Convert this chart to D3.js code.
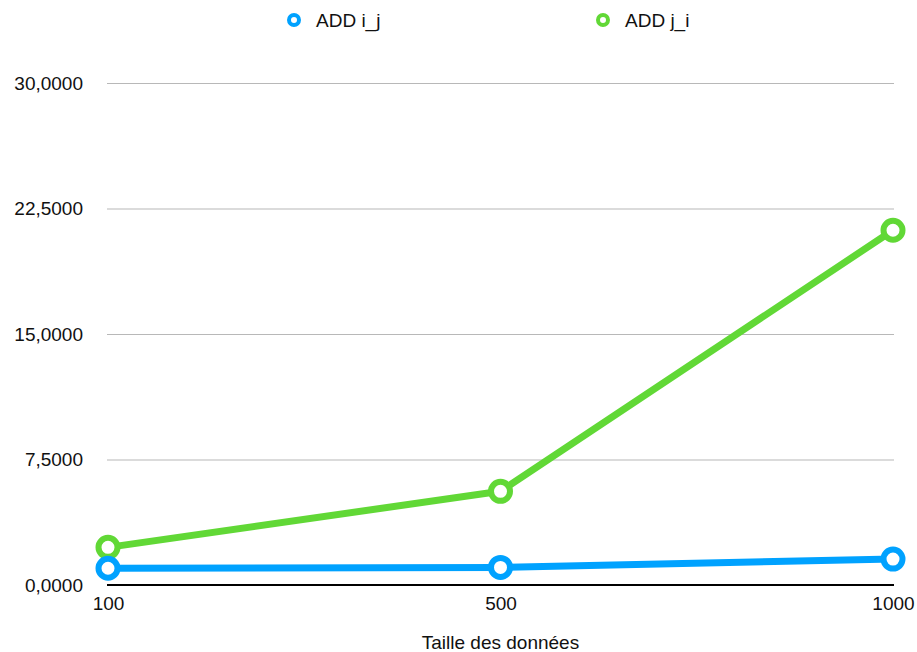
<!DOCTYPE html>
<html>
<head>
<meta charset="utf-8">
<script src="https://cdn.jsdelivr.net/npm/d3@7"></script>
<style>
	body { margin: 0; background: #fff; }
	text { font-family: "Liberation Sans", Arial, sans-serif; fill: #111; }
</style>
</head>
<body>
<div id="chart"></div>
<script>
var categories = ["100", "500", "1000"];
var seriesNames = ["ADD i_j", "ADD j_i"];
var addIJ = [1.00, 1.05, 1.55];
var addJI = [2.25, 5.60, 21.20];
var yTicks = [0, 7.5, 15, 22.5, 30];
var colors = ["#00a2ff", "#61d836"];

var width = 917, height = 652;
var margin = {left: 108, right: 24, top: 83, bottom: 67};
var fontSize = 19;

var svg = d3.select("#chart").append("svg")
	.attr("width", width)
	.attr("height", height);

var x = d3.scalePoint()
	.domain(categories)
	.range([margin.left, width - margin.right]);

var y = d3.scaleLinear()
	.domain([0, 30])
	.range([height - margin.bottom, margin.top]);

var fmt = function(v){ return d3.format(".4f")(v).replace(".", ","); };

// grid
svg.append("g")
	.attr("transform", "translate(" + (margin.left - 1) + ",0)")
	.call(d3.axisLeft(y).tickValues(yTicks).tickSize(-(width - margin.right - margin.left + 2)).tickFormat(fmt).tickPadding(24))
	.call(function(g){
		g.select(".domain").remove();
		g.selectAll(".tick line").attr("stroke", "#b8b8b8").attr("stroke-width", 1.2);
		g.selectAll(".tick text").attr("font-size", fontSize).attr("fill", "#111");
	});

// x axis
svg.append("g")
	.attr("transform", "translate(0," + y(0) + ")")
	.call(d3.axisBottom(x).tickSize(0).tickPadding(12))
	.call(function(g){
		g.select(".domain").attr("stroke", "#000").attr("stroke-width", 2)
			.attr("d", "M" + (margin.left - 1) + ",0H" + (width - margin.right + 1));
		g.selectAll(".tick text").attr("font-size", fontSize).attr("fill", "#111");
	});

svg.append("text")
	.attr("x", (margin.left + width - margin.right) / 2)
	.attr("y", 649)
	.attr("text-anchor", "middle")
	.attr("font-size", fontSize)
	.text("Taille des données");

var series = [addJI, addIJ];
var seriesColors = [colors[1], colors[0]];

var line = d3.line()
	.x(function(d, i){ return x(categories[i]); })
	.y(function(d){ return y(d); });

series.forEach(function(s, k){
	var g = svg.append("g");
	g.append("path")
		.attr("d", line(s))
		.attr("fill", "none")
		.attr("stroke", seriesColors[k])
		.attr("stroke-width", 7)
		.attr("stroke-linejoin", "round");
	g.selectAll("circle")
		.data(s)
		.enter().append("circle")
		.attr("cx", function(d, i){ return x(categories[i]); })
		.attr("cy", function(d){ return y(d); })
		.attr("r", 9.5)
		.attr("fill", "#fff")
		.attr("stroke", seriesColors[k])
		.attr("stroke-width", 6);
});

// legend
var legendX = [294, 603];
var legend = svg.selectAll(".legend")
	.data(seriesNames)
	.enter().append("g")
	.attr("transform", function(d, i){ return "translate(" + legendX[i] + ",20)"; });

legend.append("circle")
	.attr("r", 5)
	.attr("fill", "#fff")
	.attr("stroke", function(d, i){ return colors[i]; })
	.attr("stroke-width", 4);

legend.append("text")
	.attr("x", 22)
	.attr("y", 7)
	.attr("font-size", fontSize)
	.text(function(d){ return d; });
</script>
</body>
</html>
